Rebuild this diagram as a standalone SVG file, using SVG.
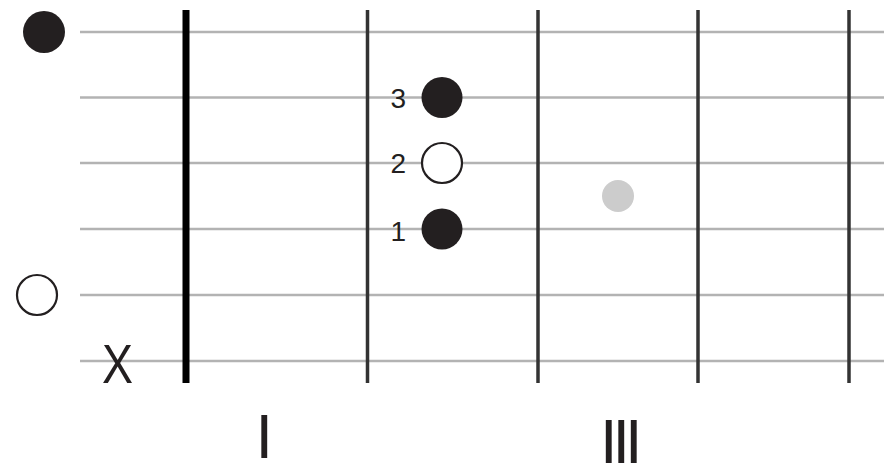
<svg xmlns="http://www.w3.org/2000/svg" width="884" height="465" viewBox="0 0 884 465">
<style>
.str{stroke:#b3b3b3;stroke-width:2.5}
.fret{stroke:#333;stroke-width:3.5}
.nut{stroke:#000;stroke-width:7}
.dot{fill:#231f20}
.open{fill:#fff;stroke:#231f20;stroke-width:2.2}
.lbl{font-family:"Liberation Sans",Arial,sans-serif;fill:#231f20}
</style>
<rect width="884" height="465" fill="#fff"/>
<g id="strings">
<line class="str" x1="80" y1="32" x2="884" y2="32"/>
<line class="str" x1="80" y1="97.5" x2="884" y2="97.5"/>
<line class="str" x1="80" y1="163" x2="884" y2="163"/>
<line class="str" x1="80" y1="229" x2="884" y2="229"/>
<line class="str" x1="80" y1="295" x2="884" y2="295"/>
<line class="str" x1="80" y1="361" x2="884" y2="361"/>
</g>
<g id="frets">
<line class="nut" x1="186" y1="10" x2="186" y2="383"/>
<line class="fret" x1="367.5" y1="10" x2="367.5" y2="383"/>
<line class="fret" x1="538" y1="10" x2="538" y2="383"/>
<line class="fret" x1="698" y1="10" x2="698" y2="383"/>
<line class="fret" x1="849" y1="10" x2="849" y2="383"/>
</g>
<g id="open-top"><circle class="dot" cx="44" cy="32" r="21"/></g>
<g id="open-5"><circle class="open" cx="37" cy="295" r="20"/></g>
<g id="mute"><text class="lbl" x="117.5" y="383" font-size="55" text-anchor="middle" textLength="31" lengthAdjust="spacingAndGlyphs">X</text></g>
<g id="finger3"><circle class="dot" cx="442" cy="97.5" r="20.5"/><text class="lbl" x="406" y="108" font-size="28" text-anchor="end">3</text></g>
<g id="finger2"><circle class="open" cx="442" cy="163" r="20"/><text class="lbl" x="406" y="173" font-size="28" text-anchor="end">2</text></g>
<g id="finger1"><circle class="dot" cx="442" cy="229" r="20.5"/><text class="lbl" x="406" y="241" font-size="28" text-anchor="end">1</text></g>
<g id="gray-dot"><circle cx="618" cy="196" r="16" fill="#cccccc"/></g>
<g id="fret-I"><text class="lbl" x="255.5" y="458" font-size="63">I</text></g>
<g id="fret-III"><text class="lbl" x="600" y="463" font-size="63" letter-spacing="-5">III</text></g>
</svg>
